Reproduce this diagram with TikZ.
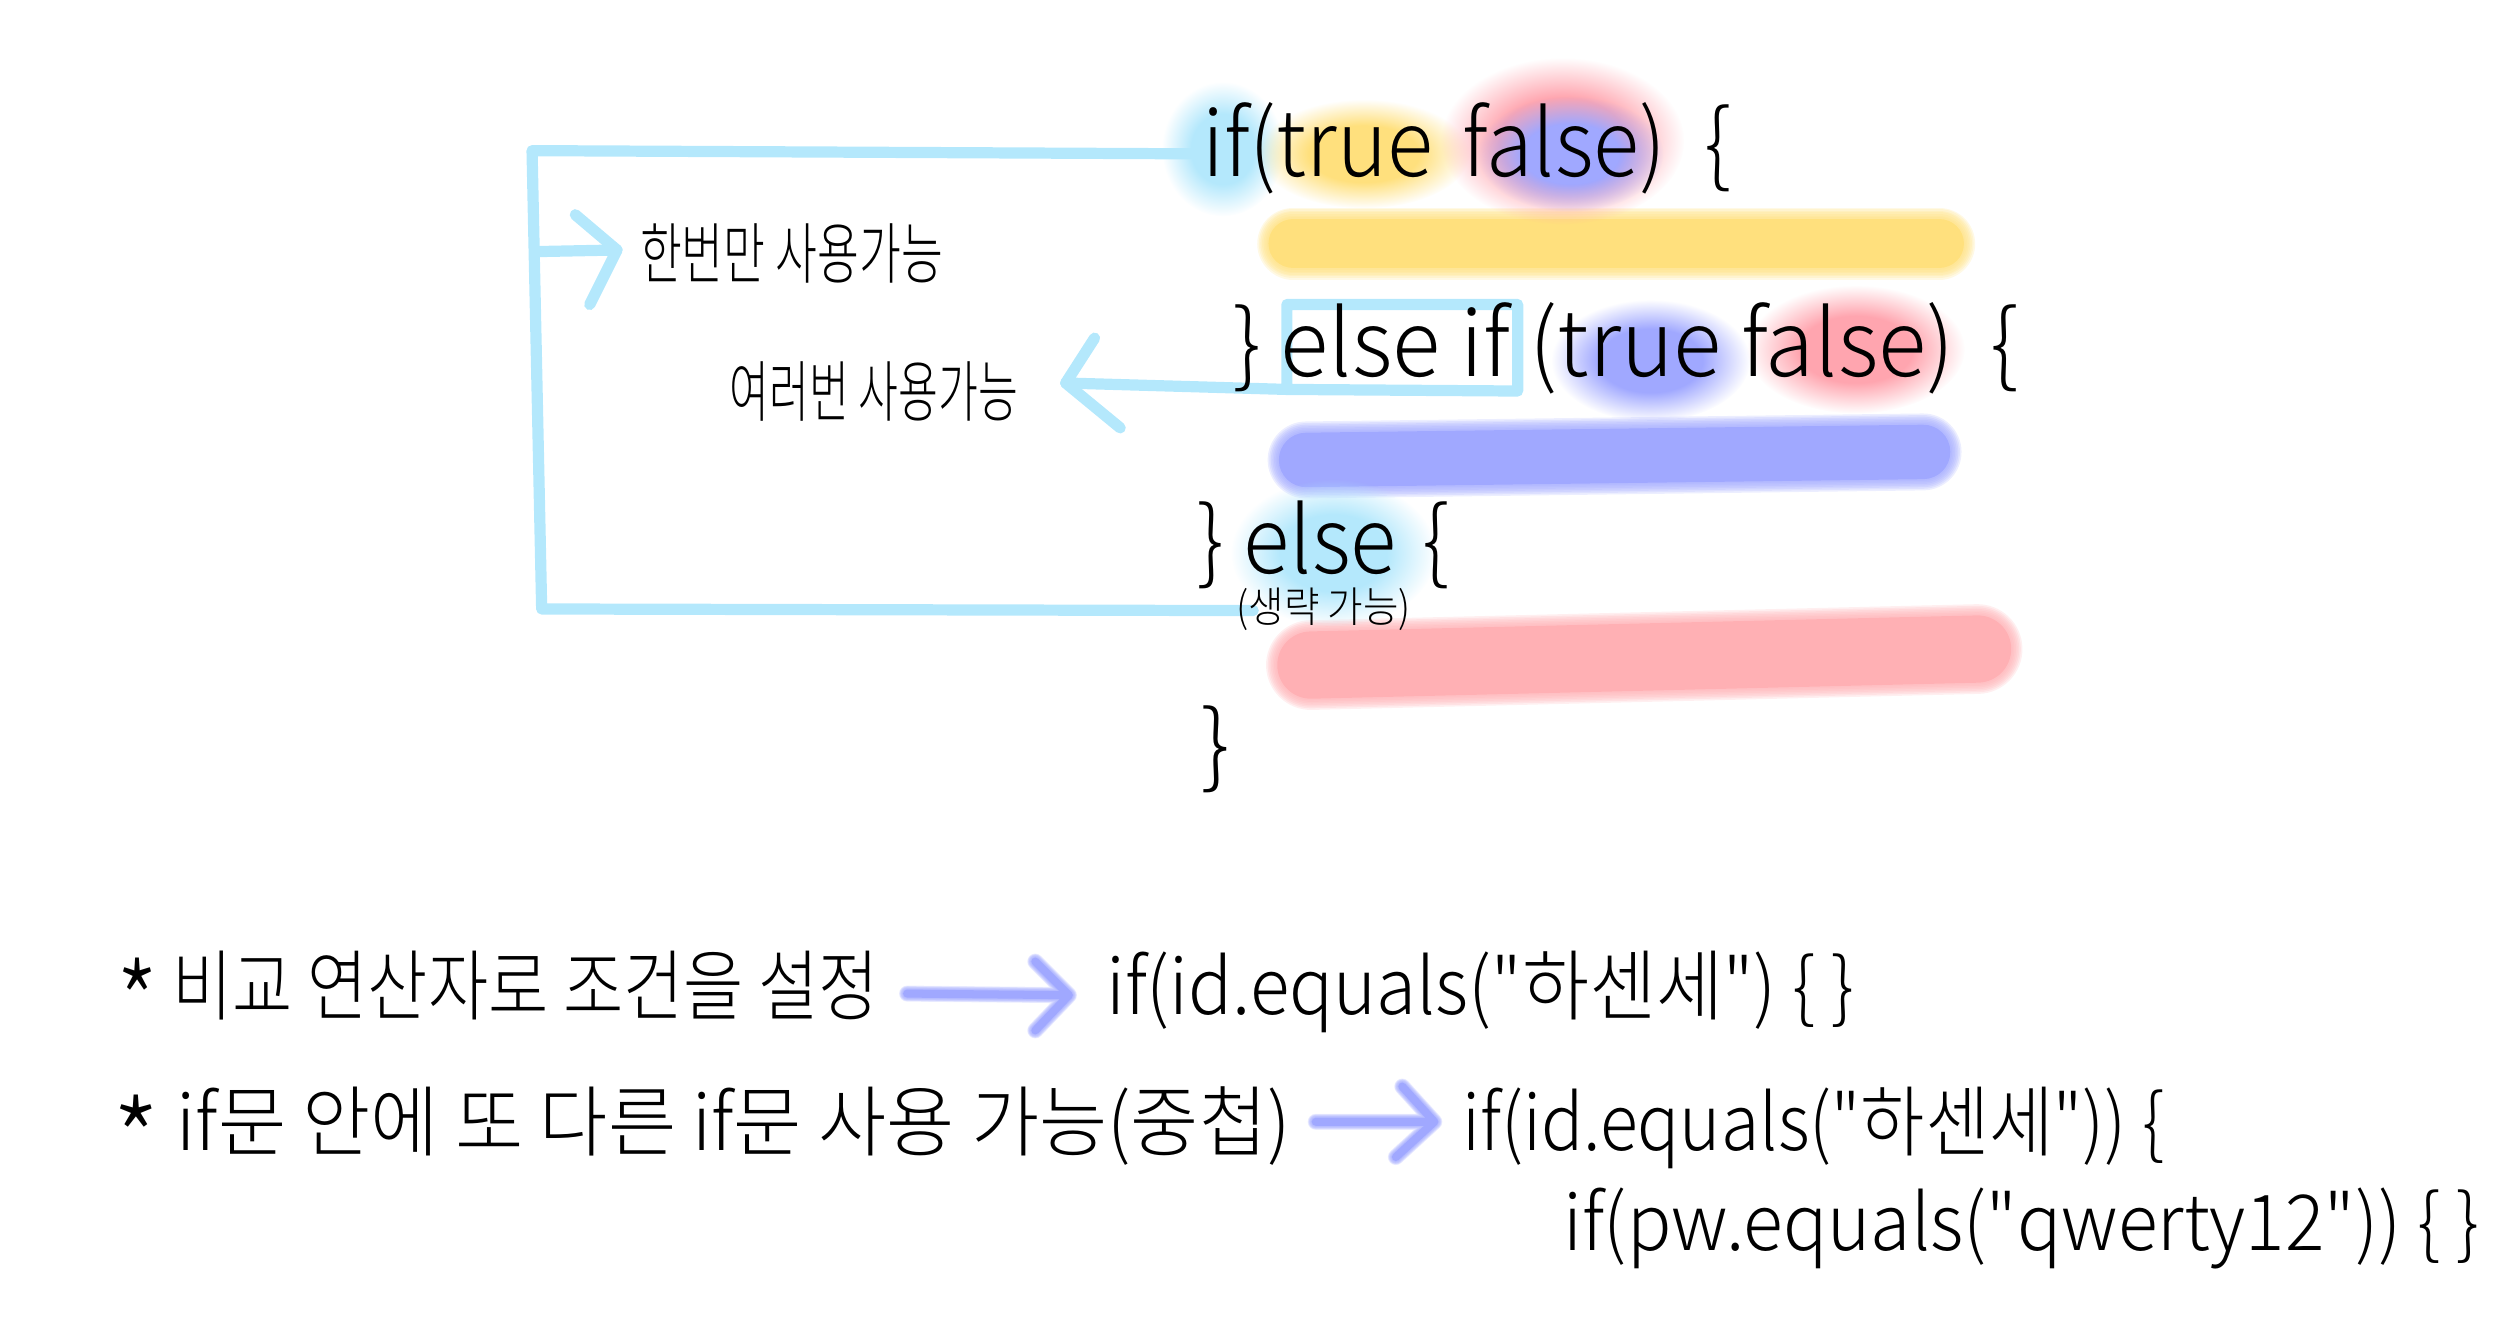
\documentclass[tikz,border=0pt]{standalone}
\usepackage{fontspec}
\usepackage{graphicx}
\setmainfont{Noto Sans CJK KR}[UprightFont={* Light}]
\usetikzlibrary{fadings}
\newlength\dpx \setlength\dpx{0.016026cm}
\definecolor{cyanline}{RGB}{180,232,252}
\definecolor{barY}{RGB}{255,224,125}
\definecolor{barB}{RGB}{160,168,255}
\definecolor{barR}{RGB}{255,176,180}
\definecolor{glowC}{RGB}{180,232,252}
\definecolor{glowR}{RGB}{255,165,175}
\definecolor{arrB}{RGB}{160,168,255}
\pgfdeclareradialshading{softglowshade}{\pgfpointorigin}{color(0bp)=(pgftransparent!0); color(13bp)=(pgftransparent!0); color(25bp)=(pgftransparent!100); color(50bp)=(pgftransparent!100)}
\pgfdeclarefading{softglow}{\pgfuseshading{softglowshade}}
\newcommand\fitw[2]{\resizebox{#1\dpx}{\height}{#2}}
\newcommand\sq{\XeTeXglyph\XeTeXcharglyph"22\relax}
\newcommand\bigast{\raisebox{-0.42em}{\scalebox{1.45}{*}}}
\newcommand\softpath[4]{%
  \foreach \k in {0,...,6}{%
    \pgfmathsetmacro\lw{#2+#3*(7-\k)/3.5}%
    \draw[#1, opacity=0.2, line width=\lw\dpx, line cap=round, line join=round] #4;
  }%
  \draw[#1, line width=#2\dpx, line cap=round, line join=round] #4;
}
\newcommand\glow[4]{%
  \fill[#1, path fading=softglow] #2 ellipse [x radius=#3\dpx, y radius=#4\dpx];%
}
\tikzset{
  codetxt/.style={inner sep=0pt, anchor=base west, font=\fontsize{26}{30}\selectfont},
  lbl/.style={inner sep=0pt, anchor=west, font=\fontsize{19}{23}\selectfont},
  small/.style={inner sep=0pt, anchor=center, font=\fontsize{12}{14}\selectfont},
  btm/.style={inner sep=0pt, anchor=base west, font=\fontsize{22}{26}\selectfont},
  cyanstroke/.style={draw=cyanline, line width=7\dpx, line cap=round, line join=round},
}
\begin{document}
\begin{tikzpicture}[x=\dpx, y=-\dpx]
\useasboundingbox (0,0) rectangle (1560,826.2);
% highlight bars
\softpath{barY}{31}{7}{(807,152) -- (1210,152)}
\softpath{barB}{34}{7}{(815,287) -- (1200,282)}
\softpath{barR}{42}{7}{(818,415) -- (1234,405)}
% glows
\glow{glowC}{(763,93)}{38}{42}
\glow{barY}{(851,96)}{66}{34}
\glow{glowR}{(975,88)}{76}{52}
\glow{barB}{(980,96)}{58}{36}
\glow{barB}{(1030,225)}{62}{38}
\glow{glowR}{(1158,218)}{68}{40}
\glow{glowC}{(832,345)}{64}{46}
% bracket coordinates
\coordinate (tR) at (747,96);
\coordinate (tL) at (332,94);
\coordinate (bL) at (338,380);
\coordinate (bR) at (782,381);
\coordinate (m1) at (335,157);
\coordinate (a1tip) at (385,156);
\coordinate (a1u) at (359,134);
\coordinate (a1d) at (368,190);
\coordinate (bxTL) at (803,190);
\coordinate (bxTR) at (947,190);
\coordinate (bxBR) at (947,244);
\coordinate (bxBL) at (803,243);
\coordinate (a2tip) at (665,239);
\coordinate (a2u) at (683,211);
\coordinate (a2d) at (699,267);
\draw[cyanstroke] (tR) -- (tL) -- (bL) -- (bR);
\draw[cyanstroke] (m1) -- (a1tip);
\draw[cyanstroke] (a1u) -- (a1tip) -- (a1d);
\draw[cyanstroke] (bxBL) -- (bxTL) -- (bxTR) -- (bxBR) -- (bxBL) -- (a2tip);
\draw[cyanstroke] (a2u) -- (a2tip) -- (a2d);
% labels
\node[lbl] (once) at (399,158) {\fitw{189}{한번만 사용가능}};
\node[lbl] (many) at (455,244) {\fitw{180}{여러번 사용가능}};
% code
\node[codetxt] (l1) at (750,110) {\fitw{330}{if(true\hspace{0.35em}false)\hspace{0.45em}\{}};
\node[codetxt] (l2) at (769,235) {\fitw{490}{\}\ else if\ (true\ false)\hspace{0.4em}\{}};
\node[codetxt] (l3) at (747,358) {\fitw{157}{\}\ else\hspace{0.3em}\{}};
\node[small] (omit) at (826,380) {\fitw{109}{(생략 가능)}};
\node[codetxt] (l4) at (749,485) {\}};
% bottom notes
\node[btm] (n1) at (72,633) {\fitw{476}{\bigast\ 비교 연산자로 조건을 설정}};
\node[btm] (c1) at (690,633) {\fitw{467}{if(id.equals(\sq 하센세\sq)\ \{\ \}}};
\node[btm] (n2) at (70,718) {\fitw{735}{\bigast\ if문 안에 또 다른 if문 사용 가능(중첩)}};
\node[btm] (c2) at (912,718) {\fitw{438}{if(id.equals(\sq 하센세\sq))\ \{}};
\node[btm] (c3) at (975,780) {\fitw{572}{if(pw.equals(\sq qwerty12\sq))\ \{\ \}}};
% bottom arrows
\coordinate (p1s) at (566,620);
\coordinate (p1t) at (667,621);
\coordinate (p1u) at (646,600);
\coordinate (p1d) at (646,643);
\coordinate (p2s) at (821,700);
\coordinate (p2t) at (895,700);
\coordinate (p2u) at (875,678);
\coordinate (p2d) at (871,722);
\softpath{arrB}{5}{2.5}{(p1s) -- (p1t) (p1u) -- (p1t) -- (p1d)}
\softpath{arrB}{5}{2.5}{(p2s) -- (p2t) (p2u) -- (p2t) -- (p2d)}
\end{tikzpicture}
\end{document}
